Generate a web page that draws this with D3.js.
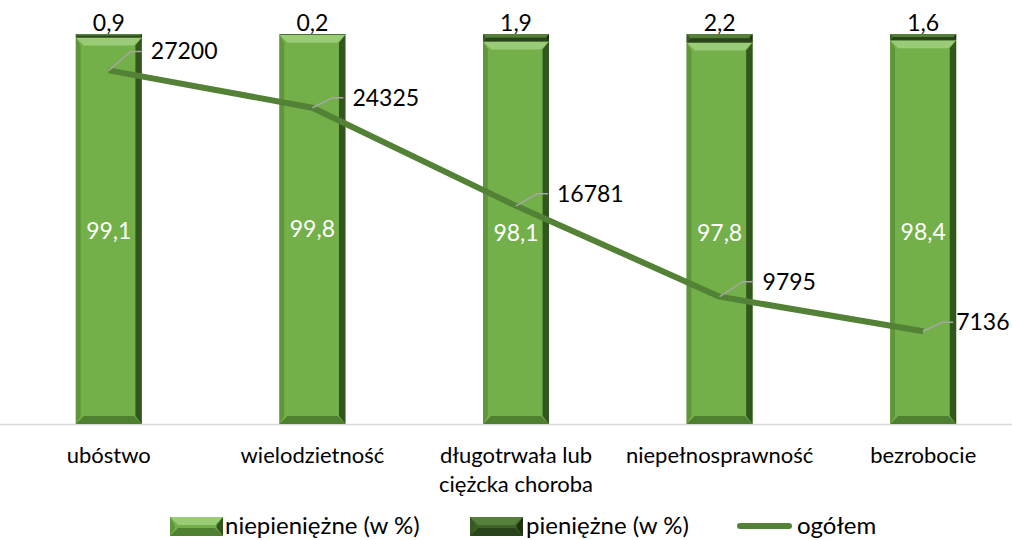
<!DOCTYPE html>
<html>
<head>
<meta charset="utf-8">
<script src="https://cdn.jsdelivr.net/npm/d3@7"></script>
<style>
  html, body { margin: 0; padding: 0; background: #fff; }
  svg { display: block; font-family: Lato, "Open Sans", sans-serif; }
</style>
</head>
<body>
<div id="chart"></div>
<script>
const categories = ["ubóstwo", "wielodzietność", "długotrwała lub\nciężcka choroba", "niepełnosprawność", "bezrobocie"];
const niepieniezne = [99.1, 99.8, 98.1, 97.8, 98.4];
const pieniezne = [0.9, 0.2, 1.9, 2.2, 1.6];
const ogolem = [27200, 24325, 16781, 9795, 7136];
const seriesNames = ["niepieniężne (w %)", "pieniężne (w %)", "ogółem"];

const fmt = v => String(v).replace(".", ",");

const W = 1012, H = 540;
const plotBase = 424, plotTop = 34;

const svg = d3.select("#chart").append("svg")
  .attr("width", W).attr("height", H)
  .attr("viewBox", `0 0 ${W} ${H}`);

const x = d3.scaleBand()
  .domain(categories)
  .range([7, 1025])
  .paddingInner(0.676)
  .paddingOuter(0.338);

const y = d3.scaleLinear().domain([0, 100]).range([plotBase, plotTop]);
const y2 = d3.scaleLinear().domain([0, 30000]).range([plotBase, plotTop]);

// axis line
svg.append("line")
  .attr("x1", 0).attr("x2", W)
  .attr("y1", plotBase + 0.5).attr("y2", plotBase + 0.5)
  .attr("stroke", "#d9d9d9").attr("stroke-width", 1.5);

// bevelled bar segment
function bevelRect(g, x0, y0, w, h, c) {
  const b = Math.min(8, h / 2);
  g.append("rect").attr("x", x0).attr("y", y0).attr("width", w).attr("height", h).attr("fill", c.base);
  // top
  g.append("polygon").attr("points", [[x0, y0], [x0 + w, y0], [x0 + w - b, y0 + b], [x0 + b, y0 + b]].join(" ")).attr("fill", c.top);
  // bottom
  g.append("polygon").attr("points", [[x0, y0 + h], [x0 + w, y0 + h], [x0 + w - b, y0 + h - b], [x0 + b, y0 + h - b]].join(" ")).attr("fill", c.bottom);
  // left
  g.append("polygon").attr("points", [[x0, y0], [x0 + b * 0.6, y0 + b], [x0 + b * 0.6, y0 + h - b], [x0, y0 + h]].join(" ")).attr("fill", c.left);
  // right
  g.append("polygon").attr("points", [[x0 + w, y0], [x0 + w - b * 0.8, y0 + b], [x0 + w - b * 0.8, y0 + h - b], [x0 + w, y0 + h]].join(" ")).attr("fill", c.right);
}

const lightC = { base: "#74b04a", top: "#9acb76", bottom: "#4f7f30", left: "#5f963b", right: "#33561f" };
const darkC = { base: "#3f6327", top: "#55803a", bottom: "#2a4419", left: "#365a22", right: "#1f3312" };

const bars = svg.append("g");
categories.forEach((c, i) => {
  const bx = x(c), bw = x.bandwidth();
  const y1 = y(niepieniezne[i]);
  bevelRect(bars, bx, y1, bw, plotBase - y1, lightC);
  const y3 = y(niepieniezne[i] + pieniezne[i]);
  bevelRect(bars, bx, y3, bw, y1 - y3, darkC);
});

// value labels
svg.append("g").selectAll("text").data(categories).join("text")
  .attr("x", d => x(d) + x.bandwidth() / 2)
  .attr("y", (d, i) => (y(niepieniezne[i]) + plotBase) / 2)
  .attr("dy", "0.35em")
  .attr("text-anchor", "middle")
  .attr("fill", "#fff")
  .attr("font-size", 23)
  .text((d, i) => fmt(niepieniezne[i]));

svg.append("g").selectAll("text").data(categories).join("text")
  .attr("x", d => x(d) + x.bandwidth() / 2)
  .attr("y", (d, i) => y(niepieniezne[i] + pieniezne[i]) - 3)
  .attr("text-anchor", "middle")
  .attr("fill", "#000")
  .attr("font-size", 23)
  .text((d, i) => fmt(pieniezne[i]));

// line (secondary axis)
const pts = categories.map((c, i) => [x(c) + x.bandwidth() / 2, y2(ogolem[i])]);
svg.append("path")
  .attr("d", d3.line()(pts))
  .attr("fill", "none")
  .attr("stroke", "#538135")
  .attr("stroke-width", 6)
  .attr("stroke-linejoin", "round");

// leader lines + labels
const leader = [[22, -19], [20, -10], [21, -12], [23, -15], [19, -9]];
const labGap = [20, 20, 20, 20, 14];
const lab = svg.append("g");
pts.forEach((p, i) => {
  const [dx, dy] = leader[i];
  const ex = p[0] + dx, ey = p[1] + dy;
  lab.append("polyline")
    .attr("points", [[p[0], p[1]], [ex, ey], [ex + 11, ey]].join(" "))
    .attr("fill", "none").attr("stroke", "#a6a6a6").attr("stroke-width", 1.5);
  lab.append("text")
    .attr("x", ex + labGap[i]).attr("y", ey).attr("dy", "0.35em")
    .attr("font-size", 23).attr("fill", "#000")
    .text(ogolem[i]);
});

// category labels
svg.append("g").selectAll("text").data(categories).join("text")
  .attr("x", d => x(d) + x.bandwidth() / 2)
  .attr("y", 463)
  .attr("text-anchor", "middle")
  .attr("font-size", 22)
  .attr("fill", "#000")
  .each(function(d) {
    d.split("\n").forEach((t, j) => {
      d3.select(this).append("tspan")
        .attr("x", x(d) + x.bandwidth() / 2)
        .attr("dy", j ? 29 : 0)
        .text(t);
    });
  });

// legend
const leg = svg.append("g");
const ly = 526;
bevelRect(leg, 170, 517, 53, 19, lightC);
leg.append("text").attr("x", 225).attr("y", ly).attr("dy", "0.33em").attr("font-size", 24).text(seriesNames[0]);
bevelRect(leg, 470, 517, 53, 19, darkC);
leg.append("text").attr("x", 526).attr("y", ly).attr("dy", "0.33em").attr("font-size", 24).text(seriesNames[1]);
leg.append("line").attr("x1", 740).attr("x2", 789).attr("y1", ly).attr("y2", ly)
  .attr("stroke", "#538135").attr("stroke-width", 6).attr("stroke-linecap", "round");
leg.append("text").attr("x", 797).attr("y", ly).attr("dy", "0.33em").attr("font-size", 24).text(seriesNames[2]);
</script>
</body>
</html>
